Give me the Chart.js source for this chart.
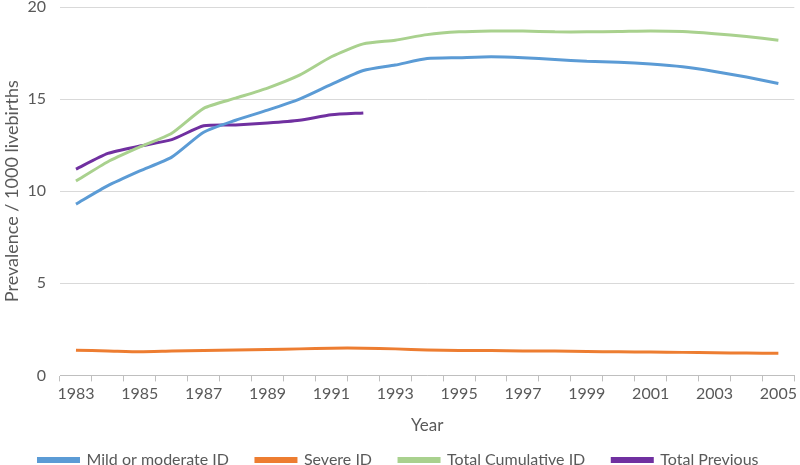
<!DOCTYPE html>
<html>
<head>
<meta charset="utf-8">
<script src="https://cdn.jsdelivr.net/npm/chart.js@4"></script>
<style>
  html, body { margin: 0; padding: 0; background: #fff; }
  #wrap { width: 800px; height: 465px; }
</style>
</head>
<body>
<div id="wrap"><canvas id="chart"></canvas></div>
<script>
const years = ['1983','1984','1985','1986','1987','1988','1989','1990','1991','1992','1993','1994',
  '1995','1996','1997','1998','1999','2000','2001','2002','2003','2004','2005'];

const mildModerate = [9.3, 10.3, 11.1, 11.85, 13.2, 13.85, 14.4, 15.0, 15.8, 16.55, 16.85, 17.2,
  17.25, 17.3, 17.25, 17.15, 17.05, 17.0, 16.9, 16.75, 16.5, 16.2, 15.85];
const severe = [1.37, 1.33, 1.28, 1.32, 1.35, 1.38, 1.4, 1.44, 1.48, 1.48, 1.44, 1.38,
  1.35, 1.35, 1.33, 1.32, 1.3, 1.28, 1.27, 1.25, 1.23, 1.21, 1.2];
const totalCumulative = [10.55, 11.6, 12.4, 13.15, 14.5, 15.05, 15.6, 16.3, 17.3, 18.0, 18.2, 18.5,
  18.65, 18.7, 18.7, 18.65, 18.65, 18.67, 18.7, 18.67, 18.55, 18.4, 18.2];
const totalPrevious = [11.2, 12.05, 12.45, 12.8, 13.55, 13.6, 13.7, 13.85, 14.15, 14.25];

const yTicks = [0, 5, 10, 15, 20];

const textColor = '#595959';
const fontFamily = 'Lato, sans-serif';

function line(label, data, color) {
    return {
        label: label,
        data: data,
        borderColor: color,
        backgroundColor: color,
        borderWidth: 3,
        pointRadius: 0,
        tension: 0.2,
        fill: false
    };
}

new Chart(document.getElementById('chart').getContext('2d'), {
    type: 'line',
    data: {
        labels: years,
        datasets: [
            line('Mild or moderate ID', mildModerate, '#5B9BD5'),
            line('Severe ID', severe, '#ED7D31'),
            line('Total Cumulative ID', totalCumulative, '#A9D18E'),
            line('Total Previous', totalPrevious, '#7030A0')
        ]
    },
    options: {
        responsive: true,
        maintainAspectRatio: false,
        animation: false,
        events: [],
        layout: { padding: { top: 7, right: 3, left: 0, bottom: -13 } },
        scales: {
            x: {
                offset: true,
                grid: { drawOnChartArea: false, offset: true, tickLength: 6, color: '#BFBFBF' },
                border: { color: '#BFBFBF' },
                ticks: {
                    autoSkip: false,
                    maxRotation: 0,
                    color: textColor,
                    font: { family: fontFamily, size: 16 },
                    padding: 3,
                    callback: function (v, i) { return i % 2 === 0 ? years[i] : ''; }
                },
                title: {
                    display: true,
                    text: 'Year',
                    color: textColor,
                    font: { family: fontFamily, size: 17 },
                    padding: { top: 9, bottom: -11 }
                }
            },
            y: {
                min: yTicks[0],
                max: yTicks[yTicks.length - 1],
                afterFit: function (scale) {
                    scale.width = 60;
                    scale.paddingTop = 0;
                },
                ticks: {
                    stepSize: yTicks[1] - yTicks[0],
                    color: textColor,
                    font: { family: fontFamily, size: 16 },
                    padding: 4
                },
                grid: { color: '#D9D9D9', tickLength: 10, tickColor: 'transparent' },
                border: { display: false },
                title: {
                    display: true,
                    text: 'Prevalence / 1000 livebirths',
                    color: textColor,
                    font: { family: fontFamily, size: 18 },
                    padding: { top: 1, bottom: 4 }
                }
            }
        },
        plugins: {
            legend: {
                position: 'bottom',
                labels: {
                    boxWidth: 40,
                    boxHeight: 3,
                    color: textColor,
                    font: { family: fontFamily, size: 16 },
                    padding: 27
                }
            },
            tooltip: { enabled: false }
        }
    }
});
</script>
</body>
</html>
